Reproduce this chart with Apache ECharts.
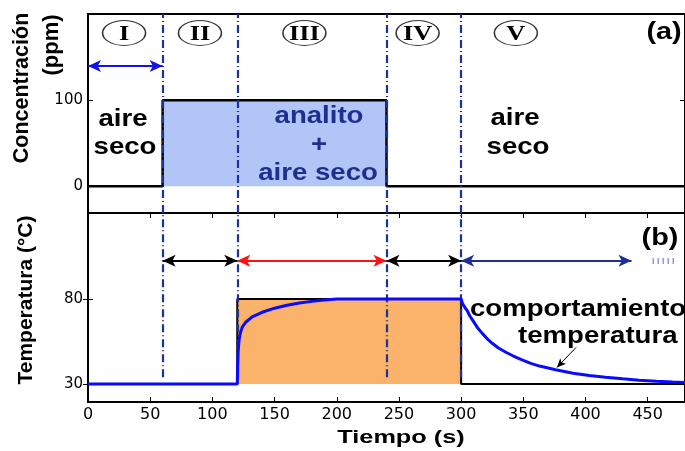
<!DOCTYPE html>
<html><head><meta charset="utf-8">
<script src="https://cdn.jsdelivr.net/npm/echarts@6/dist/echarts.min.js"></script>
<style>html,body{margin:0;padding:0;background:#fff}#c{width:685px;height:451px}</style>
</head><body><div id="c"></div>
<script>
// Panel (a): analyte concentration steps (s, ppm)
const concTime = [0, 60, 60, 240, 240, 480];
const concPpm  = [0, 0, 100, 100, 0, 0];
// Panel (b): heater set-point (s, °C)
const heatTime = [0, 120, 120, 300, 300, 480];
const heatTemp = [30, 30, 80, 80, 30, 30];
// Panel (b): sensor temperature response (s, °C)
const respTime = [0, 120, 120.4, 120.8, 121.5, 122.5, 124, 127, 132, 140, 150, 160, 170, 180, 190, 200,
                  300, 301, 303, 305, 307, 309.5, 313, 317, 321, 325, 330, 336, 342, 349, 356, 363, 376, 390, 403, 416, 430, 443, 457, 470, 480];
const respTemp = [30, 30, 42, 50, 56, 60, 63.5, 66.5, 69.5, 72.2, 74.6, 76.3, 77.6, 78.6, 79.4, 80,
                  80, 77.5, 75, 73, 70, 67.3, 63.3, 59.8, 56.6, 54, 51.2, 48.7, 46.5, 44.2, 42.2, 40.6, 38.4, 36.4, 35.1, 34.1, 33.1, 32.3, 31.7, 31.2, 30.9];
// Stage boundaries and stage labels
const stageBounds = [60, 120, 240, 300];
const stageNames = ['I', 'II', 'III', 'IV', 'V'];
const stageCenters = [29, 90, 174, 265, 344];
const stageLevel = 178;
// Duration arrows
const dryAirSpan = [0, 60];
const dryAirLevel = 139.5;
const spanStarts = [60, 120, 240, 300];
const spanEnds = [120, 240, 300, 437];
const spanLevel = 102.4;
const spanContinue = [454, 474];
// Pointer to the response curve
const pointerFrom = [392.5, 51.6];
const pointerTo = [377, 39.8];
// Axis ticks
const timeTicks = [0, 50, 100, 150, 200, 250, 300, 350, 400, 450];
const concTicks = [0, 100];
const tempTicks = [30, 80];

const pairs = (xs, ys) => xs.map((x, i) => [x, ys[i]]);
const navy = '#1c3394';
const spanColors = ['#000', '#ff1010', '#000', '#1f2f8f'];
const dashDot = [8, 3, 1, 3];

const chart = echarts.init(document.getElementById('c'), null, {renderer: 'canvas'});

function valueAxis(grid, min, max, ticks, pos, labels, fontSize) {
  return {
    type: 'value', gridIndex: grid, min: min, max: max, position: pos,
    axisLine: {show: false}, splitLine: {show: false},
    axisTick: {show: true, inside: true, length: 5, customValues: ticks, lineStyle: {color: '#000', width: 1}},
    axisLabel: {show: labels, customValues: ticks, margin: 5, fontFamily: 'DejaVu Sans', fontSize: fontSize || 15, color: '#000'}
  };
}

const option = {
  animation: false,
  backgroundColor: '#fff',
  grid: [
    {left: 88, top: 14, width: 598, height: 199, show: true, borderColor: '#000', borderWidth: 2, backgroundColor: 'transparent'},
    {left: 88, top: 213, width: 598, height: 189, show: true, borderColor: '#000', borderWidth: 2, backgroundColor: 'transparent'}
  ],
  xAxis: [
    {type: 'value', gridIndex: 0, min: 0, max: 480, axisLine: {show: false}, axisTick: {show: false}, axisLabel: {show: false}, splitLine: {show: false}},
    valueAxis(1, 0, 480, timeTicks, 'bottom', true, 16),
    valueAxis(1, 0, 480, timeTicks, 'top', false)
  ],
  yAxis: [
    valueAxis(0, -31, 200, concTicks, 'left', true, 15),
    valueAxis(0, -31, 200, concTicks, 'right', false),
    valueAxis(1, 19.5, 130.5, tempTicks, 'left', true, 15),
    valueAxis(1, 19.5, 130.5, tempTicks, 'right', false)
  ],
  series: [
    // (a) analyte window fill
    {type: 'line', xAxisIndex: 0, yAxisIndex: 0, data: [], z: 1, silent: true,
     markArea: {silent: true, itemStyle: {color: '#b1c5f7'},
       data: [[{coord: [concTime[2], concPpm[1]]}, {coord: [concTime[3], concPpm[2]]}]]}},
    // (a) concentration trace
    {type: 'line', xAxisIndex: 0, yAxisIndex: 0, data: pairs(concTime, concPpm), z: 3,
     showSymbol: false, lineStyle: {color: '#000', width: 2.5}, silent: true},
    // (a) stage boundaries and dry-air arrow
    {type: 'line', xAxisIndex: 0, yAxisIndex: 0, data: [], z: 4, silent: true,
     markLine: {silent: true, symbol: 'none', label: {show: false},
       lineStyle: {color: navy, width: 2.2, type: dashDot},
       data: stageBounds.map(b => [{coord: [b, -31]}, {coord: [b, 200]}])}},
    {type: 'line', xAxisIndex: 0, yAxisIndex: 0, data: [], z: 5, silent: true,
     markLine: {silent: true, symbol: ['arrow', 'arrow'], symbolSize: [9, 13], label: {show: false},
       lineStyle: {color: '#1212ee', width: 2, type: 'solid'},
       data: [[{coord: [dryAirSpan[0], dryAirLevel]}, {coord: [dryAirSpan[1], dryAirLevel]}]]}},
    // (a) stage label ellipses
    {type: 'scatter', xAxisIndex: 0, yAxisIndex: 0, z: 6, silent: true,
     symbol: 'circle', symbolSize: [43, 25],
     itemStyle: {color: '#fff', borderColor: '#000', borderWidth: 1.2},
     data: stageCenters.map((x, i) => ({name: stageNames[i], value: [x, stageLevel]}))},
    // (b) heater window fill
    {type: 'line', xAxisIndex: 1, yAxisIndex: 2, data: [], z: 1, silent: true,
     markArea: {silent: true, itemStyle: {color: '#fbb36b'},
       data: [[{coord: [heatTime[2], heatTemp[1]]}, {coord: [heatTime[3], heatTemp[2]]}]]}},
    // (b) heater set-point
    {type: 'line', xAxisIndex: 1, yAxisIndex: 2, data: pairs(heatTime, heatTemp), z: 3,
     showSymbol: false, lineStyle: {color: '#000', width: 2}, silent: true},
    // (b) stage boundaries
    {type: 'line', xAxisIndex: 1, yAxisIndex: 2, data: [], z: 4, silent: true,
     markLine: {silent: true, symbol: 'none', label: {show: false},
       lineStyle: {color: navy, width: 2.2, type: dashDot},
       data: stageBounds.map(b => [{coord: [b, 34]}, {coord: [b, 130.5]}])}},
    // (b) sensor temperature
    {type: 'line', xAxisIndex: 1, yAxisIndex: 2, data: pairs(respTime, respTemp), z: 5,
     showSymbol: false, lineStyle: {color: '#0a0aff', width: 3}, silent: true},
    // (b) stage duration arrows
    {type: 'line', xAxisIndex: 1, yAxisIndex: 2, data: [], z: 6, silent: true,
     markLine: {silent: true, symbol: ['arrow', 'arrow'], symbolSize: [9, 13], label: {show: false},
       data: spanStarts.map((s, i) => [
         {coord: [s, spanLevel], lineStyle: {color: spanColors[i], width: 2, type: 'solid'}, itemStyle: {color: spanColors[i]}},
         {coord: [spanEnds[i], spanLevel]}])}},
    {type: 'line', xAxisIndex: 1, yAxisIndex: 2, data: [], z: 6, silent: true,
     markLine: {silent: true, symbol: 'none', label: {show: false},
       lineStyle: {color: '#5a6cc4', width: 6, type: [1, 4]},
       data: [[{coord: [spanContinue[0], spanLevel]}, {coord: [spanContinue[1], spanLevel]}]]}},
    {type: 'line', xAxisIndex: 1, yAxisIndex: 2, data: [], z: 7, silent: true,
     markLine: {silent: true, symbol: ['none', 'arrow'], symbolSize: [6, 9], label: {show: false},
       lineStyle: {color: '#000', width: 1, type: 'solid'},
       data: [[{coord: pointerFrom}, {coord: pointerTo}]]}}
  ]
};

chart.setOption(option);

const boldFont = (px, fam) => 'bold ' + px + 'px ' + (fam || '"Liberation Sans", Arial, sans-serif');
function label(text, x, y, opts) {
  opts = opts || {};
  return {
    type: 'text', x: x, y: y, z: 100, silent: true,
    rotation: opts.rotation || 0, scaleX: opts.sx || 1, scaleY: opts.sy || 1,
    style: {text: text, font: boldFont(opts.size || 24, opts.family), fill: opts.color || '#000',
            align: opts.align || 'center', verticalAlign: 'middle'}
  };
}
const sx = 1.15;
const texts = [
  label('aire', 123, 119, {sx: sx}),
  label('seco', 125, 147, {sx: sx}),
  label('analito', 319, 116, {sx: sx, color: '#1f2f8f'}),
  label('+', 319, 145, {sx: sx, color: '#1f2f8f'}),
  label('aire seco', 318, 173, {sx: sx, color: '#1f2f8f'}),
  label('aire', 515, 118, {sx: sx}),
  label('seco', 518, 147, {sx: sx}),
  label('comportamiento', 470, 309, {sx: sx, align: 'left'}),
  label('temperatura', 518, 336, {sx: sx, align: 'left'}),
  label('(a)', 664, 32, {sx: 1.2}),
  label('(b)', 660, 238, {sx: 1.2}),
  label('Tiempo (s)', 401, 438, {size: 19, sx: 1.33}),
  label('Concentración', 22, 88, {size: 21.5, rotation: Math.PI / 2}),
  label('(ppm)', 51.5, 45, {size: 22, rotation: Math.PI / 2}),
  label('Temperatura (°C)', 26, 300, {size: 21, rotation: Math.PI / 2})
];
// Stage numerals centred in their ellipses
stageCenters.forEach((x, i) => {
  const p = chart.convertToPixel({xAxisIndex: 0, yAxisIndex: 0}, [x, stageLevel]);
  texts.push(label(stageNames[i], p[0], p[1] + 1, {size: 22, sx: 1.2, family: '"Liberation Serif", "Times New Roman", serif'}));
});
chart.setOption({graphic: texts});
</script>
</body></html>
